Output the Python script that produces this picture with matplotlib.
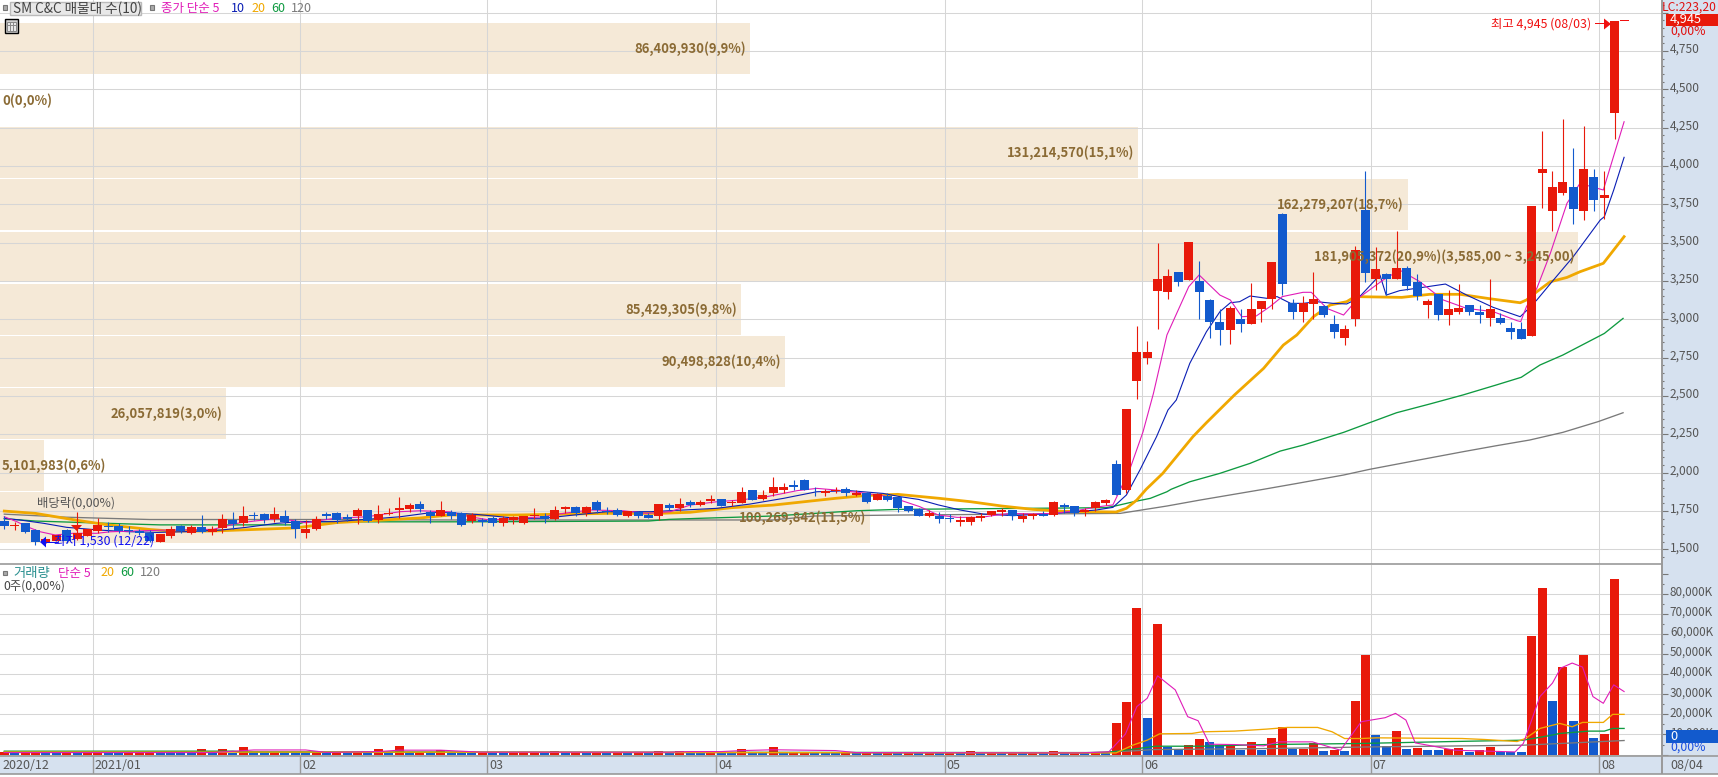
import matplotlib
matplotlib.use('Agg')
import matplotlib.pyplot as plt
from matplotlib.patches import Rectangle, Polygon
from matplotlib.ticker import MultipleLocator, FuncFormatter
from matplotlib.transforms import ScaledTranslation

plt.rcParams['font.family'] = ['Noto Sans CJK KR', 'DejaVu Sans']

W, H = 1718, 777

# 일봉 (2020/12 ~ 2021/08/03)
open_p = [1685,1650,1670,1625,1540,1555,1625,1565,1590,1620,
          1655,1655,1625,1620,1610,1550,1590,1655,1610,1645,
          1615,1640,1690,1675,1725,1730,1700,1715,1685,1605,
          1635,1730,1735,1710,1720,1755,1695,1730,1755,1765,
          1795,1745,1720,1745,1735,1685,1690,1705,1670,1695,
          1675,1720,1720,1700,1765,1775,1740,1810,1750,1755,
          1720,1745,1725,1720,1790,1770,1810,1790,1815,1830,
          1800,1805,1885,1830,1865,1885,1920,1950,1890,1870,
          1880,1895,1855,1870,1820,1850,1840,1785,1765,1720,
          1720,1705,1680,1680,1705,1725,1745,1755,1700,1720,
          1730,1725,1790,1785,1745,1770,1805,2055,1885,2595,
          2750,3185,3175,3310,3255,3250,3125,2980,2930,3000,
          2970,3065,3130,3685,3105,3045,3100,3085,2970,2880,
          3005,3715,3260,3295,3260,3335,3245,3095,3165,3030,
          3050,3095,3050,3010,3010,2945,2935,2890,3955,3705,
          3825,3860,3705,3930,3790,4345]
close_p = [1655,1660,1615,1550,1565,1595,1555,1605,1635,1660,
           1645,1620,1620,1610,1555,1600,1635,1620,1645,1615,
           1630,1700,1665,1715,1720,1695,1730,1680,1630,1635,
           1700,1720,1690,1700,1755,1685,1730,1740,1770,1790,
           1765,1720,1755,1715,1660,1725,1680,1670,1705,1710,
           1720,1725,1700,1755,1775,1740,1775,1755,1745,1725,
           1750,1720,1705,1795,1770,1795,1790,1810,1830,1785,
           1810,1875,1825,1855,1905,1905,1910,1890,1885,1880,
           1890,1870,1870,1810,1860,1825,1770,1750,1720,1735,
           1700,1700,1690,1710,1720,1750,1755,1720,1715,1730,
           1720,1810,1775,1740,1755,1810,1820,1855,2415,2785,
           2785,3265,3280,3240,3505,3175,2980,2930,3075,2970,
           3065,3120,3375,3230,3045,3105,3135,3030,2915,2935,
           3450,3305,3330,3260,3335,3220,3155,3120,3025,3065,
           3075,3045,3025,3065,2975,2920,2870,3740,3980,3860,
           3895,3720,3980,3780,3810,4945]
high_p = [1715,1680,1670,1630,1565,1595,1630,1745,1635,1705,
          1680,1670,1650,1635,1625,1600,1650,1660,1660,1725,
          1650,1730,1745,1785,1745,1740,1775,1755,1700,1690,
          1720,1745,1745,1730,1770,1755,1790,1770,1845,1805,
          1815,1760,1815,1755,1745,1735,1705,1720,1720,1720,
          1720,1770,1735,1785,1785,1785,1780,1820,1775,1770,
          1750,1750,1735,1795,1805,1835,1820,1825,1855,1830,
          1820,1905,1890,1885,1970,1935,1950,1960,1905,1895,
          1905,1905,1885,1875,1865,1865,1845,1785,1770,1760,
          1745,1730,1715,1715,1740,1750,1770,1760,1740,1735,
          1750,1815,1805,1785,1770,1815,1830,2085,2415,2955,
          2860,3500,3330,3310,3505,3380,3135,3065,3085,3065,
          3235,3120,3375,3695,3135,3150,3310,3095,3030,2965,
          3480,3965,3470,3300,3575,3345,3295,3130,3165,3190,
          3230,3095,3095,3265,3040,2980,2985,3740,4230,3965,
          4305,4115,4260,3980,3965,4945]
low_p = [1630,1625,1610,1530,1540,1555,1545,1560,1590,1605,
         1615,1605,1600,1595,1550,1550,1575,1605,1600,1605,
         1595,1605,1635,1650,1690,1675,1680,1660,1575,1575,
         1625,1700,1675,1685,1665,1680,1675,1725,1705,1745,
         1745,1675,1715,1700,1650,1670,1650,1650,1650,1665,
         1665,1700,1675,1695,1735,1720,1720,1740,1730,1720,
         1710,1705,1705,1690,1760,1750,1775,1780,1800,1785,
         1785,1800,1820,1820,1850,1865,1885,1885,1850,1850,
         1865,1850,1850,1805,1820,1815,1745,1745,1715,1710,
         1675,1680,1650,1660,1685,1715,1720,1690,1680,1700,
         1720,1720,1740,1720,1720,1750,1790,1855,1870,2480,
         2710,2940,3135,3215,3255,3005,2875,2835,2840,2920,
         2970,2980,3065,3160,3005,2980,3005,3015,2875,2830,
         2955,3240,3190,3160,3260,3190,3125,3010,2995,2965,
         3035,3030,2975,2955,2970,2870,2870,2890,3725,3575,
         3810,3620,3645,3705,3655,4175]

# 거래량 (천주)
volume_k = [1100,700,800,900,700,700,800,700,800,800,
            700,700,800,900,800,700,800,700,700,3000,
            900,3000,1000,4000,1200,1200,1300,1200,1200,1100,
            1300,800,800,800,1300,1200,3000,1100,4500,1500,
            1500,1300,2500,1200,1100,1100,1300,800,800,1000,
            1000,1000,1100,2000,1100,1100,1000,1100,1000,1000,
            900,800,800,2000,800,2000,800,800,2000,1200,
            1200,3000,1200,1200,4000,1300,1400,1400,1200,1200,
            1200,900,800,800,800,800,800,800,800,800,
            800,800,800,2000,800,800,800,800,800,800,
            800,2000,900,900,900,900,900,15670,26170,72670,
            18170,64670,3830,2670,4670,7670,6170,4670,4670,2170,
            6170,2500,8170,13670,3000,3000,5830,1670,2170,1670,
            26670,49670,9670,4170,11670,2670,3170,2170,2170,2670,
            3170,1170,2170,3670,1170,1170,1170,59170,82670,26670,
            43670,16670,49670,8170,10170,87170]
volume_up = [1,0,1,1,0,0,1,0,1,1,
             0,0,1,1,1,0,0,0,0,1,
             0,1,0,1,0,0,1,0,0,0,
             1,0,1,0,1,0,1,0,1,0,
             1,0,1,0,0,0,1,0,0,1,
             1,1,0,1,0,1,0,1,0,1,
             0,1,0,1,0,1,0,0,1,0,
             0,1,0,0,1,0,1,1,0,0,
             0,1,0,1,0,1,0,1,0,1,
             0,1,0,1,0,1,0,1,0,1,
             0,1,0,1,0,1,0,1,1,1,
             0,1,0,0,1,1,0,0,1,0,
             1,0,1,1,0,1,1,0,1,0,
             1,1,0,0,1,0,1,0,0,1,
             1,0,1,1,0,0,0,1,1,0,
             1,0,1,0,1,1]

# 이동평균선 꼭짓점 (봉 번호, 가격)
ma5_x = [0,1.2,2.2,3.4,4.9,6.6,8.9,10.2,12.4,15.6,20.1,22.7,25,26.5,29,31.7,34.9,38.1,40,42.9,
         44.8,46.7,49.3,51.9,53.8,56.4,59.6,61.8,64.1,66,68.6,70.8,73.4,76.3,78.2,80.1,82.4,84.6,86.2,88.1,
         89.9,91.7,94,95.5,96.8,99,101,103.2,105.4,106.7,108.3,109.6,110.6,111.9,114,115,117,118,119.1,120.5,
         121.8,123,125,125.8,127.3,128.9,130.3,132.7,134.3,136.25,138.5,140.75,143.3,145.6,145.95,146.5,147.5,148.8,150.4,151.65,
         153.9,155.9]
ma5_y = [1713,1681,1648,1616,1594,1605,1605,1615,1620,1626,1631,1674,1692,1702,1674,1702,1713,1746,1752,1745,
         1713,1692,1703,1713,1735,1757,1752,1735,1746,1789,1811,1822,1844,1883,1898,1887,1870,1850,1822,1779,
         1724,1709,1709,1724,1735,1731,1735,1753,1779,1790,2017,2267,2517,2898,3213,3289,3158,3126,3017,3022,
         3082,3148,3176,3176,3071,3028,3137,3256,3321,3245,3126,3071,3050,2991,2985,3082,3202,3430,3756,3886,
         3843,4288]
ma10_x = [0,1.5,3.8,6,9.2,11.8,14.7,17.6,20.8,23.3,26.2,28.5,31.7,34.9,38.1,41.3,42.9,45.5,49.3,51.9,
          54.8,58,62.2,65.4,68.6,71.8,75,78.2,81.4,84.6,86.2,88,89.9,92,94.2,97.1,101,105.1,106.7,108,
          109.3,110.9,112,112.8,114.1,115.7,117,118,118.9,119.9,121.5,122.5,123.8,125,126.3,127.9,129.2,130.3,132.4,133,
          134.3,135.9,138.7,140.75,143.3,145.9,146.5,147.5,149.1,151,153.6,154,154.9,155.9]
ma10_y = [1702,1692,1670,1644,1626,1616,1611,1616,1626,1644,1670,1681,1681,1696,1713,1742,1739,1728,1703,1703,
          1724,1746,1746,1757,1768,1796,1833,1876,1883,1865,1844,1826,1790,1757,1731,1720,1735,1757,1774,1855,
          2018,2235,2409,2474,2713,2919,3050,3108,3115,3152,3137,3148,3104,3104,3115,3104,3100,3137,3289,3158,
          3187,3202,3230,3158,3078,3017,3056,3126,3256,3408,3647,3669,3843,4056]
ma20_x = [0,3,7,10,14,16,20,24,28,32,36,40,43,49,58,63,66,70,74,77,
          80,83,86,90,93,96,99,102,107,108,109,109.9,111.5,114.4,115.7,118.4,121.2,123.1,124.4,126,
          127.6,129.2,130,134.5,137.2,140.1,143,144.9,145.9,146.5,147.5,148.8,150.4,151.65,153.9,154.9,155.9]
ma20_y = [1750,1735,1690,1660,1630,1620,1620,1630,1640,1675,1690,1705,1725,1724,1735,1735,1742,1772,1789,1811,
          1833,1852,1859,1833,1811,1783,1761,1748,1744,1768,1822,1892,1996,2235,2326,2507,2680,2832,2898,3017,
          3093,3115,3148,3143,3163,3163,3134,3117,3108,3126,3180,3245,3273,3310,3365,3452,3539]
ma60_x = [0,3,10,15,28,29,45,62,64,67,70,74,78,82,86,106,106.9,108.7,110.3,111.9,
          112.3,114.1,117,119.9,122.8,125,128.9,131.4,134,137.2,140.4,143.6,146,147.8,150,154,155.8]
ma60_y = [1700,1685,1670,1660,1660,1680,1680,1685,1696,1703,1709,1718,1735,1752,1761,1772,1783,1811,1833,1876,
          1892,1941,1996,2061,2141,2180,2263,2326,2391,2448,2507,2572,2622,2702,2767,2908,3006]
ma120_x = [0,6,14,30,43,60,74,78,86,107.4,111.9,115.1,121.2,124.4,128.9,131.4,135.6,140.4,143.6,146.8,150,153.4,155.8]
ma120_y = [1730,1710,1695,1695,1692,1692,1692,1718,1724,1735,1783,1822,1892,1930,1985,2022,2076,2137,2176,2213,2263,2333,2391]

# 거래량 이동평균 꼭짓점
vma5_x = [0,20,24,29,31,36,38,42,46,64,66,69,71,74,80,82,103.5,106.3,107.9,109,
          110,111,112.7,113.9,114.9,116,118.4,121.2,122.7,125.9,128.6,130.6,132.9,133.9,134.9,135.8,139.6,145.4,146.2,147.8,
          149,149.8,150.9,151.9,152.9,153.9,154.9,155.9]
vma5_y = [1000,1000,2300,2300,1100,1500,2200,2200,1200,1200,1500,1500,2000,2400,2000,1000,830,1330,10170,23840,
          28000,39170,32170,18840,16840,5170,5000,4330,6330,6330,2170,16340,18340,20500,17170,5830,2170,1330,5500,28840,
          35500,43000,45500,43500,28840,25500,34670,31340]
vma20_x = [0,40,107,108.6,110,111.2,114.3,115.3,118.4,121.5,123.5,126.4,127.8,129,130.6,132.1,140.3,142.5,145.6,146.4,
           147.8,149.7,150.9,151.9,153.9,154.8,155.9]
vma20_y = [1300,1200,830,4670,7170,10330,10500,11330,11670,12670,13500,13500,11330,8000,8000,8330,8000,7500,6500,8000,
           13000,15500,13840,16000,16000,20000,20000]
vma60_x = [0,22,23,106,108.6,110.8,115.3,121.5,130.2,139.4,146.2,148.6,149.7,152.5,154,154.8,155.9]
vma60_y = [1700,1700,1300,1000,2670,4170,4170,5000,5500,6500,7170,9330,10500,11670,11670,13000,13000]
vma120_x = [0,22,23,103.5,108.6,110.6,121.5,131.7,146.2,155.9]
vma120_y = [1500,1500,1250,830,1830,2500,3000,3830,4670,7000]

# 매물대 (가격 구간 아래쪽, 거래량, 비율)
bin_low = [1540,1880,2220,2560,2900,3240,3580,3920,4260,4600]
bin_volume = [100269842,5101983,26057819,90498828,85429305,181905372,162279207,131214570,0,86409930]
bin_pct = ['11,5','0,6','3,0','10,4','9,8','20,9','18,7','15,1','0,0','9,9']
bin_note = ['','','','','','(3,585,00 ~ 3,245,00)','','','','']

month_idx = [-0.414,8.5,28.5,46.5,68.5,90.5,109.5,131.5,153.5]
month_labels = ['2020/12','2021/01','02','03','04','05','06','07','08']

RED = '#E8190A'
BLUE = '#125ACD'
BEIGE = '#F5E9D7'
GOLD = '#8B6B35'
GRID = '#D6D6D6'
MAGENTA = '#E01CB8'
NAVY = '#0A1EB4'
ORANGE = '#F0A800'
GREEN = '#0E9A40'
GREY = '#7A7A7A'
PANEL = '#D6E1EF'
PANEL_TEXT = '#555555'

N = len(close_p)
xs = list(range(N))
STEP = 10.39
X0 = -4.3 / STEP
X1 = (1662 - 4.3) / STEP
FULL_BAR = 1578 / STEP  # 가장 큰 매물대 막대 길이 (봉 단위)


def fx(x):
    return x / W


def fy(y):
    return 1 - y / H


def make_axes(top, bottom, right=1662):
    return fig.add_axes([0, fy(bottom), right / W, (bottom - top) / H])


def px_text(x, y, s, **kw):
    kw.setdefault('va', 'center')
    kw.setdefault('ha', 'left')
    return fig.text(fx(x), fy(y), s, **kw)


def px_rect(x0, y0, x1, y1, **kw):
    r = Rectangle((fx(x0), fy(y1)), (x1 - x0) / W, (y1 - y0) / H, transform=fig.transFigure, **kw)
    fig.add_artist(r)
    return r


def px_poly(pts, color):
    p = Polygon([(fx(a), fy(b)) for a, b in pts], closed=True, transform=fig.transFigure,
                facecolor=color, edgecolor='none')
    fig.add_artist(p)


def raise_tick_labels(axis, px):
    # 눈금 글자를 눈금보다 살짝 위로
    off = ScaledTranslation(0, px / 100, fig.dpi_scale_trans)
    for t in axis.yaxis.get_major_ticks():
        t.label2.set_transform(t.label2.get_transform() + off)


fig = plt.figure(figsize=(W / 100, H / 100), dpi=100, facecolor='white')
px_rect(1662, 0, W, 757, facecolor=PANEL, edgecolor='none', zorder=-1)

# 가격 패널
ax = make_axes(0, 564)
ax.set_xlim(X0, X1)
ax.set_ylim(1405, 5081.5)
for v in range(1500, 5001, 250):
    ax.axhline(v, color=GRID, lw=0.75, zorder=2)
for m in month_idx[1:]:
    ax.axvline(m, color=GRID, lw=0.75, zorder=2)

bin_w = [FULL_BAR * v / max(bin_volume) for v in bin_volume]
ax.barh(bin_low, bin_w, height=332, left=X0, align='edge', color=BEIGE, linewidth=0, zorder=1)

ax.plot(ma120_x, ma120_y, color=GREY, lw=0.95, zorder=3)
ax.plot(ma60_x, ma60_y, color=GREEN, lw=0.95, zorder=3)
ax.plot(ma20_x, ma20_y, color=ORANGE, lw=2.0, zorder=3)
ax.plot(ma10_x, ma10_y, color=NAVY, lw=0.8, zorder=3)
ax.plot(ma5_x, ma5_y, color=MAGENTA, lw=0.8, zorder=3)

colors = [RED if c >= o else BLUE for o, c in zip(open_p, close_p)]
ax.vlines(xs, low_p, high_p, colors=colors, lw=0.8, zorder=4)
bottoms = [min(o, c) for o, c in zip(open_p, close_p)]
heights = [abs(c - o) for o, c in zip(open_p, close_p)]
ax.bar(xs, heights, width=9 / STEP, bottom=bottoms, color=colors, linewidth=0, zorder=5)

for low, v, w, pct, note in zip(bin_low, bin_volume, bin_w, bin_pct, bin_note):
    label = f'{v:,}({pct}%)' + note
    ymid = low + 166
    if w * STEP < 150:
        ax.text(X0 + 2 / STEP, ymid, label, color=GOLD, fontsize=9.4, fontweight='bold',
                va='center', ha='left', zorder=7)
    else:
        ax.text(X0 + w - 4 / STEP, ymid, label, color=GOLD, fontsize=9.4, fontweight='bold',
                va='center', ha='right', zorder=7)

ax.yaxis.tick_right()
ax.yaxis.set_major_locator(MultipleLocator(250))
ax.yaxis.set_minor_locator(MultipleLocator(50))
ax.yaxis.set_major_formatter(FuncFormatter(lambda v, p: f'{int(v):,}' if 1500 <= v <= 4750 else ''))
ax.tick_params(axis='y', which='major', length=4.3, width=0.8, color='#777777', labelsize=8.6,
               labelcolor=PANEL_TEXT, pad=1.4)
ax.tick_params(axis='y', which='minor', length=1.6, width=0.8, color='#777777')
ax.set_xticks([])
for s in ['top', 'left']:
    ax.spines[s].set_visible(False)
ax.spines['right'].set_color('#999999')
ax.spines['right'].set_linewidth(1.4)
ax.spines['bottom'].set_color('#999999')
ax.spines['bottom'].set_linewidth(1.2)
raise_tick_labels(ax, 3)

# 거래량 패널
vax = make_axes(565, 756)
vax.set_xlim(X0, X1)
vax.set_ylim(-696, 94240)
for v in range(0, 80001, 10000):
    vax.axhline(v, color=GRID, lw=0.75, zorder=1)
for m in month_idx[1:]:
    vax.axvline(m, color=GRID, lw=0.75, zorder=1)
vcolors = [RED if u else BLUE for u in volume_up]
vax.bar(xs, volume_k, width=9 / STEP, color=vcolors, linewidth=0, zorder=2)
vax.plot(vma120_x, vma120_y, color=GREY, lw=0.95, zorder=3)
vax.plot(vma60_x, vma60_y, color=GREEN, lw=0.95, zorder=3)
vax.plot(vma20_x, vma20_y, color=ORANGE, lw=0.95, zorder=3)
vax.plot(vma5_x, vma5_y, color=MAGENTA, lw=0.8, zorder=3)
vax.yaxis.tick_right()
vax.yaxis.set_major_locator(MultipleLocator(10000))
vax.yaxis.set_minor_locator(MultipleLocator(5000))
vax.yaxis.set_major_formatter(FuncFormatter(lambda v, p: f'{int(v):,}K' if 10000 <= v <= 80000 else ''))
vax.tick_params(axis='y', which='major', length=4.3, width=0.8, color='#777777', labelsize=8.4,
                labelcolor=PANEL_TEXT, pad=1.4)
vax.tick_params(axis='y', which='minor', length=1.6, width=0.8, color='#777777')
vax.set_xticks([])
for s in ['top', 'left', 'bottom']:
    vax.spines[s].set_visible(False)
vax.spines['right'].set_color('#999999')
vax.spines['right'].set_linewidth(1.4)
raise_tick_labels(vax, 3)

# 날짜 띠
dax = make_axes(756, 774, right=W)
dax.set_facecolor(PANEL)
dax.set_xlim(X0, X0 + W / STEP)
dax.set_ylim(0, 1)
dax.set_xticks([])
dax.set_yticks([])
for s in ['left', 'right']:
    dax.spines[s].set_visible(False)
for s in ['top', 'bottom']:
    dax.spines[s].set_color('#999999')
    dax.spines[s].set_linewidth(1.2)
for m, lab in zip(month_idx, month_labels):
    if m > 0:
        dax.axvline(m, color='#999999', lw=1.0)
    dax.text(m + 2 / STEP, 0.47, lab, color=PANEL_TEXT, fontsize=9.0, va='center', ha='left')
dax.axvline(X1, color='#999999', lw=1.4)
dax.text(X1 + 8 / STEP, 0.47, '08/04', color=PANEL_TEXT, fontsize=9.0, va='center', ha='left')

# 상단 범례
px_rect(2.5, 5, 7, 10, facecolor='#AAAAAA', edgecolor='#777777', lw=0.8, zorder=6)
px_rect(9.5, 1.5, 141, 15, facecolor='#E8E8E8', edgecolor='#BBBBBB', lw=1.0, zorder=6)
px_text(13, 8.5, 'SM C&C 매물대 수(10)', color='#444444', fontsize=9.8, zorder=7)
px_rect(150, 5, 154, 10, facecolor='#AAAAAA', edgecolor='#777777', lw=0.8, zorder=6)
px_text(161, 8.5, '종가 단순 5', color=MAGENTA, fontsize=9.0, zorder=7)
px_text(231, 8.5, '10', color=NAVY, fontsize=9.0, zorder=7)
px_text(251, 8.5, '20', color=ORANGE, fontsize=9.0, zorder=7)
px_text(271, 8.5, '60', color=GREEN, fontsize=9.0, zorder=7)
px_text(291, 8.5, '120', color=GREY, fontsize=9.0, zorder=7)

# 표 아이콘
px_rect(4.5, 19.5, 17.5, 32.5, facecolor='#D0D0D0', edgecolor='black', lw=1.0, zorder=6)
px_rect(6.5, 21.5, 15.5, 30.5, facecolor='#E8E8E8', edgecolor='#888888', lw=0.7, zorder=6)
for gx in (9.5, 12.5):
    px_rect(gx, 21.5, gx, 30.5, edgecolor='#888888', lw=0.7, zorder=6)
px_rect(6.5, 24.5, 15.5, 24.5, edgecolor='#888888', lw=0.7, zorder=6)

# 거래량 범례
px_rect(2.5, 570.5, 7, 575, facecolor='#AAAAAA', edgecolor='#777777', lw=0.8, zorder=6)
px_text(13, 573, '거래량', color='#2A9090', fontsize=9.6, zorder=7)
px_text(58, 573, '단순 5', color=MAGENTA, fontsize=9.0, zorder=7)
px_text(100, 573, '20', color=ORANGE, fontsize=9.0, zorder=7)
px_text(120, 573, '60', color=GREEN, fontsize=9.0, zorder=7)
px_text(140, 573, '120', color=GREY, fontsize=9.0, zorder=7)
px_text(3, 586, '0주(0,00%)', color='#444444', fontsize=8.8, zorder=7)

# 최고 / 최저 / 배당락
px_text(1491, 24, '최고 4,945 (08/03)', color='#F01010', fontsize=8.9, zorder=7)
px_rect(1595, 23.4, 1606, 24.4, facecolor='#F01010', edgecolor='none', zorder=7)
px_poly([(1604, 18.5), (1604, 29.5), (1611, 24)], '#F01010')
px_rect(1620, 19.6, 1629, 20.6, facecolor='#F01010', edgecolor='none', zorder=7)

px_text(54, 541, '최저 1,530 (12/22)', color='#1010F0', fontsize=8.9, zorder=7)
px_rect(44, 541.5, 58, 543, facecolor='#1010F0', edgecolor='none', zorder=7)
px_poly([(40, 542), (46, 536.5), (46, 547.5)], '#1010F0')

px_text(37, 503, '배당락(0,00%)', color='#555555', fontsize=8.9, zorder=7)
px_poly([(71, 525), (82, 525), (76.6, 531)], RED)

# 오른쪽 현재가 표시
px_text(1662, 7, 'LC:223,20', color='#E01010', fontsize=8.7, zorder=7)
px_rect(1666, 14, W, 25.7, facecolor=RED, edgecolor='none', zorder=6)
px_text(1670, 19.5, '4,945', color='white', fontsize=9.2, zorder=7)
px_text(1670, 31, '0,00%', color='#E01010', fontsize=8.8, zorder=7)
px_rect(1666, 730, W, 743, facecolor=BLUE, edgecolor='none', zorder=6)
px_text(1670, 736, '0', color='white', fontsize=9.2, zorder=7)
px_text(1670, 747.5, '0,00%', color='#1A4FE0', fontsize=8.8, zorder=7)

fig.savefig('out.png', dpi=100)
